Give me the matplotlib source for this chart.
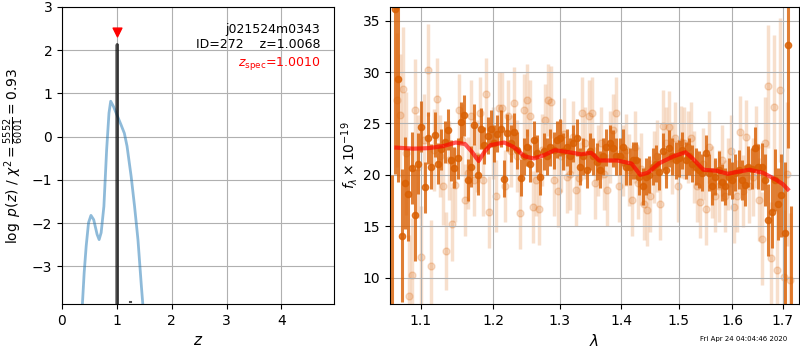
import numpy as np
import matplotlib
matplotlib.use("Agg")
import matplotlib.pyplot as plt
from matplotlib.ticker import FixedLocator, NullLocator, FixedFormatter

# ---------------- left panel: p(z) ----------------
z_coarse = [0.36, 0.373, 0.404, 0.441, 0.484, 0.528, 0.578, 0.640, 0.677, 0.714,
            0.764, 0.814, 0.857, 0.888, 0.938, 1.0, 1.075, 1.137, 1.186, 1.261,
            1.323, 1.385, 1.447, 1.472, 1.50]
logp_coarse = [-4.6, -3.85, -3.15, -2.53, -1.99, -1.82, -1.92, -2.26, -2.38, -2.22,
               -1.61, -0.30, 0.55, 0.82, 0.70, 0.51, 0.28, 0.08, -0.22, -0.92,
               -1.61, -2.38, -3.45, -3.85, -4.6]

z_fine = [1.002, 1.0068, 1.0116]
logp_fine = [-6.0, 2.13, -6.0]
z_blip = [1.245, 1.255]
logp_blip = [-3.83, -3.83]

z_spec = 1.0010
z_best = 1.0068
marker_y = 2.42

# ---------------- right panel: spectrum ----------------
dark_flux = [5.0, 36.1, 29.3, 14.1, 19.2, 18.1, 20.7, 16.1, 21.1, 24.7,
             18.8, 23.6, 20.8, 23.9, 21.1, 22.5, 23.2, 24.4, 21.4, 20.7,
             21.6, 25.1, 25.8, 19.5, 20.8, 24.9, 20.0, 24.5, 22.9, 23.8,
             24.5, 23.1, 24.0, 24.5, 19.6, 24.1, 23.1, 24.2, 22.4,
             19.7, 21.8, 22.7, 21.1, 23.4, 22.1, 19.8, 22.3, 21.8, 22.7,
             22.4, 23.4, 23.6, 22.3, 22.7, 21.8, 23.1, 23.6, 20.8, 21.8,
             20.5, 22.3, 21.8, 21.3, 20.5, 21.8, 22.7, 23.1, 22.6, 21.8,
             21.8, 22.7, 20.8, 20.8, 21.4, 21.4, 19.8, 18.9, 19.8, 20.0,
             20.8, 21.1, 20.3, 22.3, 20.5, 22.6, 21.8, 21.4, 21.6, 22.4,
             21.4, 21.8, 21.1, 20.8, 20.5, 20.2, 22.1, 20.2, 18.9, 19.8,
             20.5, 19.3, 18.9, 19.8, 19.5, 20.2, 20.5, 19.5, 19.0, 20.8,
             20.6, 22.6, 20.8, 20.8, 19.5, 15.6, 16.4, 19.5, 17.2, 18.0,
             14.3, 32.6, 6.0]
dark_err = [15.0, 16.0, 10.0, 6.5, 4.5, 4.5, 3.5, 4.5, 3.0, 2.5,
            2.5, 2.5, 2.2, 2.2, 2.0, 2.0, 2.0, 2.0, 2.0, 2.0,
            2.0, 2.0, 2.0, 2.0, 2.0, 2.0, 2.0, 2.0, 1.8, 1.8,
            1.8, 1.8, 1.8, 1.8, 1.8, 1.8, 1.8, 1.8, 1.8,
            1.8, 1.8, 1.8, 1.8, 1.8, 1.8, 1.8, 1.8, 1.8, 1.8,
            1.8, 1.8, 1.8, 1.8, 1.8, 1.8, 1.8, 1.8, 1.8, 1.8,
            1.8, 1.8, 1.8, 1.8, 1.8, 1.8, 1.8, 1.8, 1.8, 1.8,
            1.8, 1.8, 1.8, 1.8, 1.8, 1.8, 1.8, 1.8, 1.8, 1.8,
            1.8, 1.8, 1.8, 1.8, 1.8, 1.8, 1.8, 1.8, 1.8, 1.8,
            1.8, 1.8, 1.8, 1.8, 1.8, 1.8, 1.8, 1.8, 1.8, 1.8,
            1.8, 1.8, 1.8, 1.8, 1.8, 1.8, 1.9, 1.9, 2.0, 2.0,
            2.0, 2.1, 2.2, 2.3, 2.5, 3.5, 3.5, 3.0, 3.5, 4.0,
            7.0, 10.0, 11.0]
dark_wave_range = (1.062, 1.7175)

light_flux = [27.3, 25.8, 28.4, 22.1, 8.2, 10.3, 26.3, 20.8, 12.0, 23.4,
              30.2, 11.1, 22.4, 27.4, 21.8, 18.9, 12.6, 21.4, 15.2, 19.0,
              26.3, 23.4, 17.6, 20.2, 25.7, 19.5, 21.8, 26.0, 19.5, 27.9,
              16.4, 23.1, 17.9, 26.5, 26.5, 18.9, 25.7, 22.3, 27.0, 21.8,
              16.3, 26.3, 27.3, 25.7, 16.9, 19.5, 16.7, 22.4, 25.3, 27.3,
              27.1, 19.5, 18.4, 21.8, 24.0, 19.8, 20.1, 23.7, 18.5, 19.7,
              26.0, 23.1, 25.7, 26.0, 19.2, 21.4, 23.1, 20.1, 18.5, 22.7,
              24.4, 26.0, 18.9, 21.4, 22.4, 20.5, 17.6, 22.7, 19.2, 20.6,
              17.2, 16.6, 17.9, 20.8, 21.8, 17.2, 24.8, 23.1, 24.7, 21.6,
              23.6, 18.9, 23.2, 23.1, 22.7, 23.6, 20.8, 18.9, 17.4, 21.1,
              16.7, 22.7, 19.3, 17.9, 18.9, 21.4, 17.9, 20.1, 22.3, 16.9,
              17.9, 24.2, 18.4, 23.7, 18.9, 19.8, 22.7, 17.6, 13.8, 23.1,
              28.6, 11.9, 26.6, 10.7, 28.3, 10.1, 20.1, 9.8]
light_err = [6.5, 6.0, 6.0, 6.0, 6.0, 5.5, 5.0, 5.0, 5.0, 4.5,
             4.5, 4.5, 4.0, 4.0, 4.0, 3.8, 3.8, 3.8, 3.6, 3.6,
             3.5, 3.5, 3.5, 3.5, 3.5, 3.5, 3.5, 3.5, 3.5, 3.5,
             3.5, 3.5, 3.5, 3.5, 3.5, 3.5, 3.5, 3.5, 3.5, 3.5,
             3.5, 3.5, 3.5, 3.5, 3.5, 3.5, 3.5, 3.5, 3.5, 3.5,
             3.5, 3.5, 3.5, 3.5, 3.5, 3.5, 3.5, 3.5, 3.5, 3.5,
             3.5, 3.5, 3.5, 3.5, 3.5, 3.5, 3.5, 3.5, 3.5, 3.5,
             3.5, 3.5, 3.5, 3.5, 3.5, 3.5, 3.5, 3.5, 3.5, 3.5,
             3.5, 3.5, 3.5, 3.5, 3.5, 3.5, 3.5, 3.5, 3.5, 3.5,
             3.5, 3.5, 3.5, 3.5, 3.5, 3.5, 3.5, 3.5, 3.5, 3.5,
             3.5, 3.5, 3.5, 3.5, 3.5, 3.5, 3.5, 3.5, 3.5, 3.5,
             3.5, 3.5, 3.5, 3.6, 3.6, 3.8, 4.0, 4.0, 4.5, 4.5,
             6.0, 5.5, 7.0, 6.0, 7.0, 6.5, 7.0, 6.5]
light_wave_range = (1.0683, 1.714)

model_wave = [1.068, 1.09, 1.11, 1.13, 1.147, 1.160, 1.170, 1.179, 1.188, 1.196,
              1.216, 1.230, 1.246, 1.260, 1.275, 1.292, 1.315, 1.334, 1.350, 1.363,
              1.380, 1.393, 1.417, 1.432, 1.445, 1.464, 1.49, 1.512, 1.525, 1.545,
              1.570, 1.591, 1.610, 1.633, 1.660, 1.687, 1.700, 1.710]
model_flux = [22.65, 22.55, 22.6, 22.8, 23.15, 23.0, 22.2, 21.35, 22.3, 22.9,
              23.15, 22.7, 21.8, 21.6, 21.9, 22.4, 22.2, 22.0, 22.15, 21.4,
              21.4, 21.4, 21.1, 20.0, 20.2, 21.1, 21.8, 22.2, 21.6, 20.5,
              20.4, 20.1, 20.3, 20.5, 20.2, 19.5, 19.1, 18.6]

x_ticks = [1.1, 1.2, 1.3, 1.4, 1.5, 1.6, 1.7]
x_ticklabels = ["1.1", "1.2", "1.3", "1.4", "1.5", "1.6", "1.7"]

# ---------------- figure ----------------
fig = plt.figure(figsize=(8, 3.5), dpi=100)
ax1 = fig.add_axes([62/800, 46/350, 272/800, 297/350])
ax2 = fig.add_axes([390/800, 46/350, 409/800, 297/350])

ax1.plot(z_coarse, logp_coarse, color='#1f77b4', alpha=0.5, lw=2)
ax1.plot(z_fine, logp_fine, color='k', alpha=0.7, lw=2.2)
ax1.plot(z_blip, logp_blip, color='k', alpha=0.7, lw=1.5)
ax1.scatter([z_spec], [marker_y], marker='v', color='red', s=40, zorder=5)
ax1.set_xlim(0, 4.96)
ax1.set_ylim(-3.87, 3.0)
ax1.set_xticks([0, 1, 2, 3, 4])
ax1.set_yticks([-3, -2, -1, 0, 1, 2, 3])
ax1.grid(True)
ax1.set_xlabel(r'$z$', fontsize=11)
ax1.set_ylabel(r'$\log\ p(z)$ / $\chi^2=\frac{5552}{6001}=0.93$', fontsize=10)
ax1.text(0.95, 0.945, 'j021524m0343', transform=ax1.transAxes,
         ha='right', va='top', fontsize=9)
ax1.text(0.95, 0.895, 'ID=272    z=1.0068', transform=ax1.transAxes,
         ha='right', va='top', fontsize=9)
ax1.text(0.95, 0.84, r'$z_\mathrm{spec}$=1.0010', transform=ax1.transAxes,
         ha='right', va='top', fontsize=9, color='red')

c = '#d95f02'
wl = np.geomspace(light_wave_range[0], light_wave_range[1], len(light_flux))
ax2.errorbar(wl, light_flux, yerr=light_err, color=c, alpha=0.2, marker='o',
             ms=5, linestyle='none', elinewidth=2.5, zorder=1)
wd = np.geomspace(dark_wave_range[0], dark_wave_range[1], len(dark_flux))
ax2.errorbar(wd, dark_flux, yerr=dark_err, color=c, alpha=0.8, marker='o',
             ms=4.5, linestyle='none', elinewidth=2.2, zorder=2)
ax2.plot(model_wave, model_flux, color='red', alpha=0.65, lw=3, zorder=3)
ax2.set_xscale('log')
ax2.xaxis.set_major_locator(FixedLocator(x_ticks))
ax2.xaxis.set_major_formatter(FixedFormatter(x_ticklabels))
ax2.xaxis.set_minor_locator(NullLocator())
ax2.set_xlim(1.0598, 1.7333)
ax2.set_ylim(7.44, 36.33)
ax2.set_yticks([10, 15, 20, 25, 30, 35])
ax2.grid(True)
ax2.set_xlabel(r'$\lambda$', fontsize=11)
ax2.set_ylabel(r'$f_\lambda\times 10^{-19}$', fontsize=10, labelpad=2)

fig.text(787/800, 1 - 339/350, 'Fri Apr 24 04:04:46 2020', ha='right', va='center',
         fontsize=5)

fig.savefig('out.png', dpi=100)
